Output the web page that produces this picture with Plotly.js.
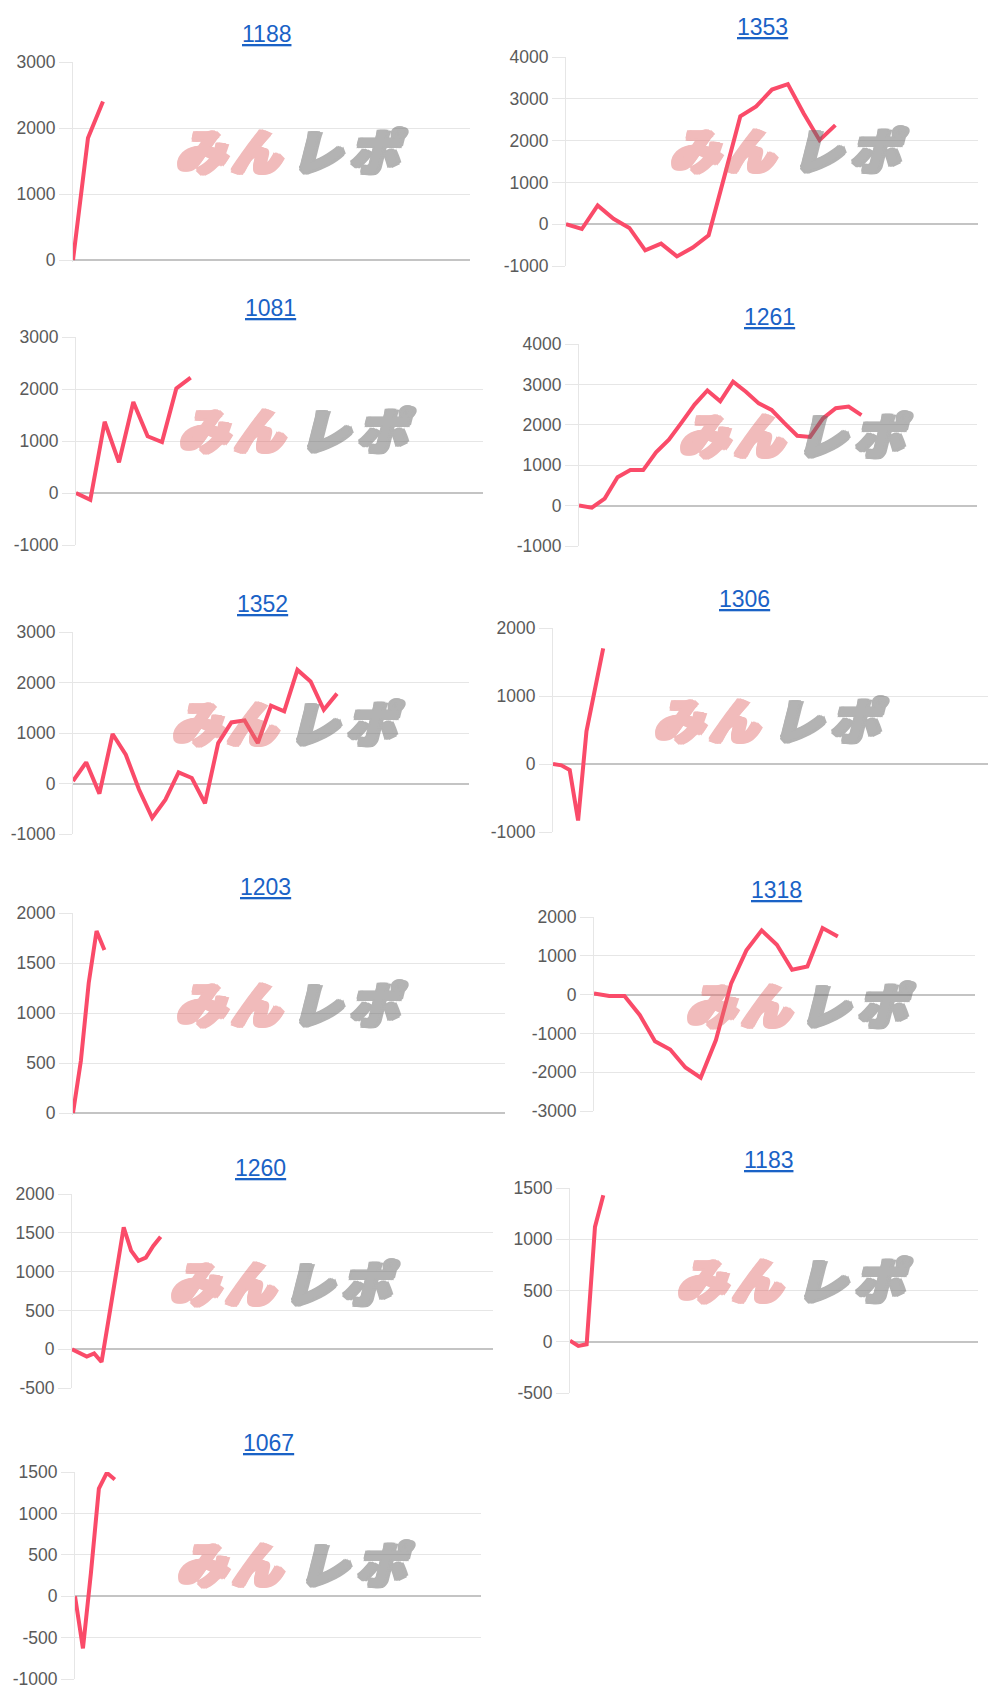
<!DOCTYPE html>
<html>
<head>
<meta charset="utf-8">
<script src="https://cdn.plot.ly/plotly-3.0.1.min.js"></script>
<style>
html,body{margin:0;padding:0;background:#fff;}
#chart{width:1000px;height:1707px;}
</style>
</head>
<body>
<div id="chart"></div>
<script>
// ---- data ----
const titles = ['1188','1353','1081','1261','1352','1306','1203','1318','1260','1183','1067'];

const v1188 = [0, 1850, 2400];
const v1353 = [0, -115, 450, 130, -90, -625, -465, -770, -560, -265, 1150, 2580, 2820, 3220, 3350, 2650, 2010, 2370];
const v1081 = [0, -130, 1370, 590, 1750, 1090, 980, 2010, 2220];
const v1261 = [0, -50, 175, 700, 880, 880, 1320, 1630, 2060, 2500, 2850, 2580, 3070, 2820, 2530, 2370, 2040, 1730, 1700, 2160, 2410, 2450, 2240];
const v1352 = [50, 420, -200, 980, 570, -120, -680, -320, 220, 110, -390, 800, 1210, 1250, 800, 1540, 1430, 2250, 2020, 1460, 1780];
const v1306 = [0, -20, -90, -830, 480, 1100, 1700];
const v1203 = [0, 520, 1300, 1820, 1630];
const v1318 = [30, -35, -35, -525, -1200, -1415, -1880, -2140, -1170, 290, 1140, 1655, 1285, 640, 725, 1715, 1500];
const v1260 = [0, -45, -95, -55, -165, 410, 990, 1570, 1270, 1140, 1180, 1330, 1450];
const v1183 = [10, -40, -25, 1120, 1430];
const v1067 = [0, -630, 280, 1300, 1490, 1410];

const series = [v1188, v1353, v1081, v1261, v1352, v1306, v1203, v1318, v1260, v1183, v1067];

// y tick scales per chart
const yTickMin = [0, -1000, -1000, -1000, -1000, -1000, 0, -3000, -500, -500, -1000];
const yTickMax = [3000, 4000, 3000, 4000, 3000, 2000, 2000, 2000, 2000, 1500, 1500];
const yTickStep = [1000, 1000, 1000, 1000, 1000, 1000, 500, 1000, 500, 500, 500];
// x category span per chart (number of slot intervals on the axis)
const xSlots = [26.5, 26, 28.4, 31, 30, 52, 55, 25, 57, 49, 51];

// ---- layout geometry (pixels) ----
const W = 1000, H = 1707;
const boxes = [
  {x0:73,  x1:470, yT:62,   yB:260,  tx:266, ty:34.3,   wy:147.5,  px:228.5, gx:352},
  {x0:566, x1:978, yT:57,   yB:266,  tx:762, ty:27.2,   wy:146.5,  px:722,   gx:853},
  {x0:76,  x1:483, yT:337,  yB:545,  tx:270, ty:308,    wy:426,    px:231,   gx:360},
  {x0:579, x1:977, yT:344,  yB:546,  tx:769, ty:316.7,  wy:431.5,  px:731,   gx:857},
  {x0:73,  x1:469, yT:632,  yB:834,  tx:262, ty:603.8,  wy:719.5,  px:224,   gx:349},
  {x0:553, x1:988, yT:628,  yB:832,  tx:744, ty:599.5,  wy:716.5,  px:706,   gx:833},
  {x0:73,  x1:505, yT:913,  yB:1113, tx:265, ty:886.7,  wy:1000,   px:228,   gx:352},
  {x0:594, x1:975, yT:917,  yB:1111, tx:776, ty:890.3,  wy:1001,   px:738.5, gx:860},
  {x0:72,  x1:493, yT:1194, yB:1388, tx:260, ty:1167.7, wy:1279,   px:222.5, gx:344.5},
  {x0:570, x1:978, yT:1188, yB:1393, tx:768, ty:1159.7, wy:1276.5, px:729.5, gx:857.5},
  {x0:75,  x1:481, yT:1472, yB:1679, tx:268, ty:1442.8, wy:1560.5, px:229,   gx:359.5}
];

// ---- styles ----
const LINE_COLOR = '#fa4b69';
const GRID_COLOR = '#e6e6e6';
const ZERO_COLOR = '#c4c4c4';
const TICK_FONT = {family: 'Liberation Sans, Arial, Helvetica, sans-serif', size: 17.5, color: '#5a5a5a'};
const TITLE_FONT = {family: 'Liberation Sans, Arial, Helvetica, sans-serif', size: 23, color: '#1a62c6', lineposition: 'under'};
const WM_FAMILY = 'Noto Sans CJK JP Black, Noto Sans CJK JP, sans-serif';
const WM_SIZE = 49;
const WM_PINK = 'rgb(226,106,106)';
const WM_GRAY = 'rgb(105,105,105)';
function heavyShadow(c) {
  const d = 1.5;
  return [[d,0],[-d,0],[0,d],[0,-d],[d,d],[-d,-d],[d,-d],[-d,d],[2*d,0],[2*d,d],[3*d,0]]
    .map(p => p[0] + 'px ' + p[1] + 'px 0 ' + c).join(', ');
}

const traces = [];
const layout = {
  width: W, height: H,
  margin: {l: 0, r: 0, t: 0, b: 0},
  paper_bgcolor: '#ffffff',
  plot_bgcolor: 'rgba(0,0,0,0)',
  showlegend: false,
  annotations: [],
  hovermode: false
};

series.forEach((vals, i) => {
  const n = i + 1;
  const xa = 'xaxis' + (i === 0 ? '' : n);
  const ya = 'yaxis' + (i === 0 ? '' : n);
  const xr = 'x' + (i === 0 ? '' : n);
  const yr = 'y' + (i === 0 ? '' : n);
  const b = boxes[i];

  traces.push({
    type: 'scatter', mode: 'lines',
    x: vals.map((_, j) => j), y: vals,
    xaxis: xr, yaxis: yr,
    line: {color: LINE_COLOR, width: 4, shape: 'linear'},
    hoverinfo: 'skip'
  });

  // range: pad a touch below 0 when 0 is the bottom tick so the zero line is drawn
  const pxPerUnit = (b.yB - b.yT) / (yTickMax[i] - yTickMin[i]);
  const padUnits = yTickMin[i] === 0 ? 2 / pxPerUnit : 0;
  const rMin = yTickMin[i] - padUnits;
  const botPx = b.yB + padUnits * pxPerUnit;

  const tv = [], tt = [];
  for (let v = yTickMin[i]; v <= yTickMax[i] + 1e-9; v += yTickStep[i]) {
    tv.push(v); tt.push(String(v));
  }

  layout[xa] = {
    domain: [b.x0 / W, b.x1 / W],
    range: [0, xSlots[i]],
    anchor: yr,
    showgrid: false, zeroline: false, showticklabels: false,
    ticks: '', showline: false, fixedrange: true
  };
  layout[ya] = {
    domain: [1 - botPx / H, 1 - b.yT / H],
    range: [rMin, yTickMax[i]],
    anchor: xr,
    tickmode: 'array', tickvals: tv, ticktext: tt,
    showgrid: true, gridcolor: GRID_COLOR, gridwidth: 1,
    zeroline: true, zerolinecolor: ZERO_COLOR, zerolinewidth: 2,
    showline: true, linecolor: GRID_COLOR, linewidth: 1,
    ticks: 'outside', ticklen: 13, tickcolor: GRID_COLOR, tickwidth: 1,
    tickfont: TICK_FONT, fixedrange: true
  };

  // title (underlined link-style)
  layout.annotations.push({
    text: titles[i], xref: 'paper', yref: 'paper',
    x: b.tx / W, y: 1 - b.ty / H, xanchor: 'center', yanchor: 'middle',
    showarrow: false, font: TITLE_FONT
  });

  // watermark みんレポ
  const chars = [
    ['み', b.px - 28, WM_PINK, 0.45], ['ん', b.px + 27, WM_PINK, 0.45],
    ['レ', b.gx - 36, WM_GRAY, 0.5], ['ポ', b.gx + 24, WM_GRAY, 0.5]
  ];
  chars.forEach(c => {
    layout.annotations.push({
      text: c[0], xref: 'paper', yref: 'paper',
      x: c[1] / W, y: 1 - (b.wy + 1) / H, xanchor: 'center', yanchor: 'middle',
      showarrow: false, opacity: c[3],
      font: {family: WM_FAMILY, size: WM_SIZE, weight: 900, style: 'italic', color: c[2], shadow: heavyShadow(c[2])}
    });
  });
});

Plotly.newPlot('chart', traces, layout, {displayModeBar: false, staticPlot: true});
</script>
</body>
</html>
